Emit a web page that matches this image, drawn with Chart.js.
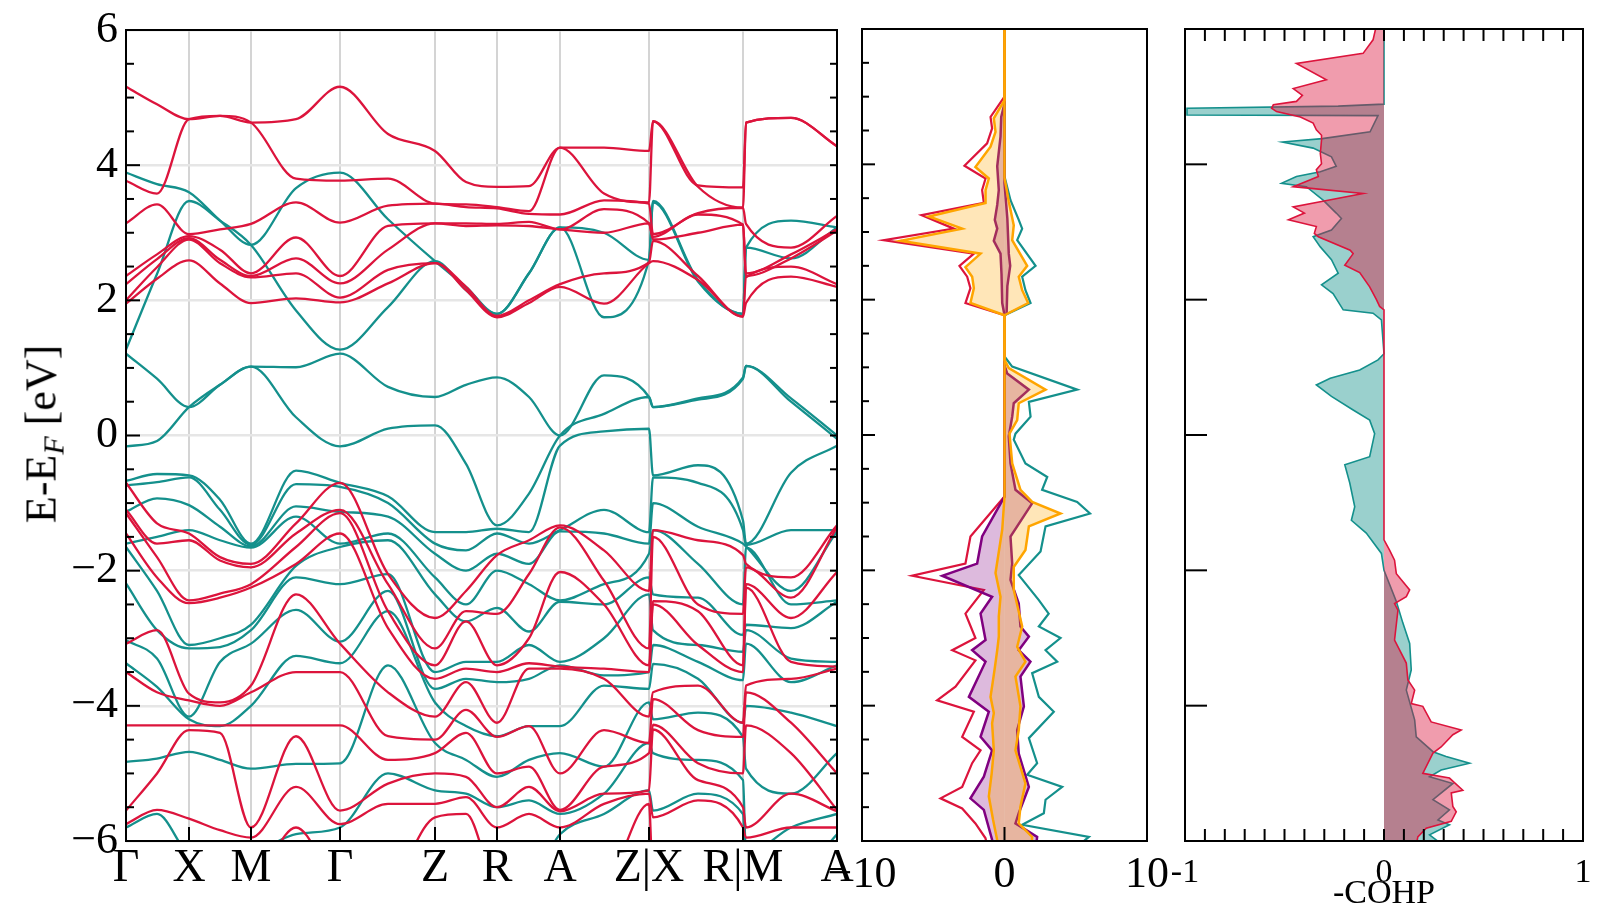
<!DOCTYPE html>
<html>
<head>
<meta charset="utf-8">
<script src="https://cdn.jsdelivr.net/npm/chart.js@4.4.1/dist/chart.umd.min.js"></script>
<style>
html, body { margin: 0; padding: 0; background: #fff; }
#wrap { position: relative; width: 1618px; height: 911px; overflow: hidden; }
#wrap canvas { position: absolute; left: 0; top: 0; }
#ytitle { position: absolute; left: 41px; top: 434px; transform: translate(-50%, -50%) rotate(-90deg);
  font-family: 'Liberation Serif', 'Times New Roman', serif; font-size: 44px; white-space: nowrap; color: #000; }
#ytitle sub { font-size: 30px; font-style: italic; vertical-align: -8px; line-height: 0; }
</style>
</head>
<body>
<div id="wrap">
  <canvas id="bands" width="1618" height="911"></canvas>
  <canvas id="dos" width="1618" height="911"></canvas>
  <canvas id="cohp" width="1618" height="911"></canvas>
  <div id="ytitle">E-E<sub>F</sub> [eV]</div>
</div>
<script>
// k-path: sample positions, high-symmetry ticks and their labels
const kPath = [0, 0.31, 0.63, 0.94, 1.25, 1.70, 2.14, 2.62, 3.09, 3.40, 3.71, 4.03, 4.34, 4.78, 5.23, 5.27, 5.72, 6.17, 6.20, 6.65, 7.11]
const kTicks = [0, 0.63, 1.25, 2.14, 3.09, 3.71, 4.34, 5.23, 6.17, 7.11]
const kLabels = ['Γ', 'X', 'M', 'Γ', 'Z', 'R', 'A', 'Z|X', 'R|M', 'A']

// band energies (eV) read at each k sample, one row per kPath entry
const tealCols = [
  [3.89, 1.27, 1.21, -0.16, -0.67, -0.74, -1.13, -1.6, -1.65, -2.19, -3.03, -3.37, -4.83, -5.8, -6.6],
  [3.72, 2.39, 0.84, -0.08, -0.57, -0.69, -0.93, -1.5, -2.3, -2.88, -3.3, -3.72, -4.78, -5.6, -6.6],
  [3.6, 3.47, 0.42, 0.42, -0.59, -0.62, -1.03, -1.4, -3.1, -3.15, -4.16, -4.2, -4.68, -6.2, -6.6],
  [3.18, 3.18, 0.75, 0.75, -0.95, -1.1, -1.35, -1.55, -3.0, -3.13, -3.35, -4.3, -4.8, -6.3, -6.6],
  [2.82, 2.82, 1.02, 1.02, -1.6, -1.62, -1.64, -1.66, -2.8, -2.88, -3.08, -4.0, -4.93, -6.2, -6.6],
  [3.66, 1.85, 1.01, 0.27, -0.52, -0.72, -1.05, -1.2, -1.93, -2.1, -2.58, -3.26, -4.86, -5.9, -6.6],
  [3.89, 1.27, 1.21, -0.16, -0.7, -0.76, -1.13, -1.6, -1.65, -2.2, -3.05, -3.37, -4.85, -5.8, -6.6],
  [3.2, 1.9, 0.72, 0.1, -0.9, -1.0, -1.2, -1.45, -1.55, -2.05, -2.3, -2.6, -3.4, -5.0, -6.6],
  [2.58, 2.58, 0.57, 0.15, -1.43, -1.6, -1.75, -2.1, -2.35, -3.5, -3.75, -3.95, -4.55, -5.25, -6.6],
  [2.2, 2.15, 0.75, -0.42, -1.43, -1.7, -2.0, -2.5, -2.75, -3.35, -3.6, -4.3, -4.8, -5.3, -6.6],
  [1.8, 1.8, 0.86, -1.33, -1.38, -1.45, -1.75, -2.0, -2.55, -3.35, -3.65, -4.45, -5.05, -5.5, -6.6],
  [2.4, 2.4, 0.57, -0.86, -1.43, -1.6, -1.9, -2.2, -2.9, -3.1, -3.6, -4.3, -4.8, -5.4, -6.6],
  [3.08, 3.08, 0.0, 0.0, -0.15, -1.4, -1.42, -2.44, -2.46, -3.35, -3.4, -4.3, -4.7, -5.6, -5.9],
  [3.0, 1.75, 0.89, 0.32, 0.06, -1.1, -1.45, -2.2, -2.5, -3.0, -3.55, -3.7, -4.9, -5.3, -5.6],
  [2.6, 2.6, 0.57, 0.57, 0.1, -1.43, -1.6, -1.75, -2.1, -2.35, -3.5, -3.75, -3.95, -4.55, -5.25],
  [3.47, 3.45, 0.42, 0.42, -0.59, -0.62, -1.0, -1.4, -2.35, -2.88, -3.1, -3.38, -4.2, -4.7, -5.55],
  [2.3, 2.28, 0.55, 0.53, -0.44, -0.7, -1.35, -1.9, -2.4, -3.1, -3.35, -3.6, -4.1, -4.8, -5.3],
  [1.8, 1.8, 0.86, 0.84, -1.26, -1.4, -1.6, -2.5, -2.95, -3.2, -3.62, -4.25, -4.46, -5.1, -5.6],
  [2.78, 2.78, 1.03, 1.03, -1.6, -1.62, -1.64, -1.66, -2.8, -2.88, -3.08, -4.0, -4.93, -6.2, -6.6],
  [3.18, 2.62, 0.55, 0.5, -0.55, -1.4, -2.3, -2.5, -2.85, -3.3, -3.65, -4.1, -5.3, -5.8, -6.6],
  [3.08, 3.08, 0.0, -0.05, -0.15, -1.4, -1.42, -2.44, -2.46, -3.35, -3.4, -4.3, -4.7, -5.6, -5.9]
]
const redCols = [
  [5.16, 3.77, 3.14, 2.36, 2.24, 2.0, 1.95, -0.7, -1.1, -1.15, -1.45, -3.08, -3.5, -4.29, -5.55, -5.75, -6.6],
  [4.9, 3.58, 3.42, 2.68, 2.61, 2.49, 2.32, -1.3, -1.6, -1.8, -2.1, -2.88, -3.8, -4.29, -5.0, -5.54, -6.6],
  [4.68, 4.68, 2.98, 2.95, 2.92, 2.9, 2.59, -1.45, -1.55, -2.44, -2.48, -3.82, -3.92, -4.29, -4.36, -5.67, -6.6],
  [4.73, 4.73, 3.05, 2.75, 2.6, 2.55, 2.25, -1.8, -1.85, -2.34, -2.4, -3.95, -4.0, -4.29, -4.4, -5.84, -6.6],
  [4.63, 4.63, 3.13, 2.4, 2.36, 2.34, 1.96, -1.9, -1.95, -2.2, -2.25, -3.7, -3.8, -4.29, -5.8, -5.95, -6.6],
  [4.68, 3.8, 3.45, 2.93, 2.62, 2.4, 2.03, -1.3, -1.45, -1.65, -1.9, -2.35, -3.5, -4.29, -4.45, -5.2, -5.8],
  [5.16, 3.77, 3.15, 2.36, 2.25, 2.04, 1.97, -0.7, -1.1, -1.15, -1.45, -3.08, -3.5, -4.29, -5.55, -5.75, -6.6],
  [4.46, 3.8, 3.4, 3.1, 2.75, 2.45, 2.25, -2.05, -2.2, -2.6, -2.85, -3.8, -4.45, -4.8, -5.15, -5.45, -6.6],
  [4.21, 3.43, 3.43, 3.14, 3.14, 2.55, 2.55, -2.7, -3.15, -3.4, -3.6, -4.16, -4.5, -4.7, -5.0, -5.45, -5.65],
  [3.75, 3.42, 3.38, 3.14, 3.1, 2.2, 2.15, -2.3, -2.6, -2.75, -3.45, -3.65, -4.06, -4.4, -5.05, -5.35, -5.6],
  [3.68, 3.38, 3.36, 3.13, 3.11, 1.77, 1.75, -1.77, -2.64, -3.4, -3.5, -4.25, -4.46, -5.0, -5.5, -5.8, -6.6],
  [3.69, 3.32, 3.28, 3.16, 3.1, 2.0, 1.96, -1.55, -2.05, -3.0, -3.37, -3.45, -4.3, -4.9, -5.2, -5.6, -6.6],
  [4.26, 4.26, 3.27, 3.05, 3.05, 2.24, 2.2, -1.33, -1.36, -2.02, -3.42, -3.45, -5.0, -5.54, -5.56, -5.8, -6.6],
  [4.26, 3.58, 3.48, 3.35, 3.0, 2.4, 1.95, -1.7, -2.15, -2.5, -3.45, -3.6, -4.36, -4.9, -5.3, -5.45, -6.6],
  [4.21, 3.45, 3.43, 3.14, 3.14, 2.56, 2.55, -2.3, -3.15, -3.4, -3.5, -4.16, -4.55, -4.7, -5.25, -5.3, -5.45],
  [4.65, 4.65, 2.98, 2.94, 2.9, 2.88, 2.58, -1.4, -1.5, -2.45, -2.5, -3.8, -3.9, -4.28, -4.35, -5.65, -6.6],
  [3.7, 3.68, 3.29, 3.27, 3.0, 2.36, 2.3, -1.55, -2.5, -2.6, -3.1, -3.7, -4.36, -4.85, -5.1, -5.4, -6.6],
  [3.67, 3.37, 3.37, 3.12, 3.12, 1.76, 1.76, -1.77, -2.64, -3.4, -3.5, -4.25, -4.46, -5.0, -5.5, -5.8, -6.6],
  [4.63, 4.63, 3.13, 2.4, 2.36, 2.34, 1.96, -1.9, -1.95, -2.2, -2.25, -3.7, -3.8, -4.29, -5.8, -5.95, -6.6],
  [4.70, 4.70, 2.78, 2.68, 2.62, 2.5, 2.35, -2.1, -2.4, -2.7, -3.35, -3.6, -4.25, -4.7, -5.3, -5.8, -6.6],
  [4.28, 4.28, 3.25, 3.05, 3.03, 2.24, 2.2, -1.33, -1.36, -2.02, -3.42, -3.45, -5.0, -5.54, -5.56, -5.8, -6.6]
]

// DOS: [energy, states/eV] pairs, spin up positive, spin down negative
const dosTotalDn = [[6,0],[5.0,0],[4.70,-0.98],[4.53,-0.87],[4.31,-1.22],[3.98,-2.81],[3.79,-1.33],[3.62,-1.57],[3.43,-1.45],[3.25,-5.82],[3.05,-3.56],[2.88,-8.47],[2.68,-2.15],[2.50,-3.16],[2.34,-2.62],[2.17,-2.39],[1.95,-2.74],[1.77,0],[-0.91,0],[-1.5,-2.39],[-1.9,-2.74],[-2.08,-6.48],[-2.29,-1.45],[-2.64,-2.74],[-3.0,-2.04],[-3.18,-3.67],[-3.33,-2.04],[-3.72,-3.44],[-3.92,-4.73],[-4.09,-2.15],[-4.46,-2.97],[-4.66,-1.68],[-4.85,-2.27],[-5.2,-2.97],[-5.37,-4.49],[-5.52,-2.97],[-5.74,-2.04],[-5.96,-1.33],[-6.1,-1.2]]
const dosTotalUp = [[6,0],[3.82,0],[3.47,0.42],[3.18,1.0],[3.05,1.24],[2.88,0.89],[2.50,2.18],[2.34,1.24],[2.14,1.47],[1.95,1.83],[1.77,0],[1.16,0],[1.01,0.54],[0.67,5.1],[0.49,1.71],[0.27,1.83],[0.02,0.77],[-0.07,0.65],[-0.42,1.47],[-0.62,3.0],[-0.81,2.64],[-0.99,5.1],[-1.16,6.0],[-1.35,2.88],[-1.72,2.53],[-2.07,1.0],[-2.44,2.41],[-2.64,3.1],[-2.83,2.41],[-3.0,3.93],[-3.18,2.88],[-3.35,3.7],[-3.52,1.94],[-3.87,2.41],[-4.09,3.46],[-4.48,1.71],[-4.85,2.29],[-5.02,1.59],[-5.2,4.05],[-5.39,2.88],[-5.59,2.76],[-5.76,1.24],[-5.94,5.92],[-6.1,5.0]]
const dosPurpleDn = [[6,0],[4.9,0],[4.7,-0.23],[4.41,-0.28],[3.97,-0.51],[3.62,-0.4],[3.40,-0.51],[3.18,-0.68],[3.05,-0.51],[2.87,-0.75],[2.68,-0.28],[2.38,-0.21],[1.95,-0.16],[1.77,0],[-0.91,0],[-1.5,-1.57],[-1.9,-1.92],[-2.08,-4.37],[-2.39,-0.87],[-2.64,-1.68],[-3.03,-1.33],[-3.18,-2.27],[-3.35,-1.33],[-3.87,-2.5],[-4.09,-1.1],[-4.46,-1.68],[-4.66,-0.87],[-5.05,-1.45],[-5.37,-2.39],[-5.54,-1.45],[-5.98,-0.87],[-6.1,-0.8]]
const dosPurpleUp = [[6,0],[3.72,0],[3.2,0.2],[2.68,0.3],[2.5,0.4],[2.2,0.2],[1.8,0.15],[1.77,0],[1.03,0],[0.91,0.19],[0.67,1.71],[0.47,0.65],[0.27,0.54],[-0.02,0.3],[-0.42,0.42],[-0.81,0.77],[-1.01,1.94],[-1.5,0.42],[-1.9,0.54],[-2.14,0.42],[-2.49,1.0],[-2.83,1.12],[-2.98,1.71],[-3.18,1.0],[-3.35,1.82],[-3.57,1.12],[-4.01,1.36],[-4.36,0.89],[-4.71,1.0],[-5.2,1.71],[-5.59,1.0],[-5.74,0.77],[-5.94,2.29],[-6.1,2.2]]
const dosOrangeDn = [[6,0],[4.95,0],[4.68,-0.75],[4.48,-0.63],[4.26,-0.98],[3.96,-2.04],[3.79,-1.1],[3.62,-1.33],[3.43,-1.33],[3.23,-5.31],[3.05,-2.97],[2.87,-7.3],[2.68,-1.68],[2.48,-2.74],[2.34,-2.27],[2.17,-2.15],[1.95,-2.39],[1.77,0],[-0.91,0],[-1.4,-0.16],[-2.04,-0.63],[-2.39,-0.28],[-2.68,-0.4],[-2.98,-0.4],[-3.18,-0.51],[-3.47,-0.7],[-3.87,-0.98],[-4.11,-0.75],[-4.26,-0.87],[-4.66,-0.75],[-5.0,-0.9],[-5.34,-1.1],[-5.69,-0.8],[-5.99,-0.51],[-6.1,-0.45]]
const dosOrangeUp = [[6,0],[3.8,0],[3.45,0.3],[3.1,0.65],[2.88,0.54],[2.50,1.59],[2.34,1.0],[2.14,1.24],[1.95,1.66],[1.77,0],[1.11,0],[0.99,0.3],[0.67,2.88],[0.47,1.0],[0.22,0.89],[0.02,0.35],[-0.42,0.54],[-0.81,1.12],[-0.99,1.94],[-1.16,3.93],[-1.35,1.71],[-1.7,1.47],[-1.95,0.65],[-2.29,0.65],[-2.83,1.24],[-3.13,0.89],[-3.35,1.47],[-3.57,0.77],[-4.01,1.12],[-4.36,1.0],[-4.66,0.77],[-5.15,1.47],[-5.49,1.12],[-5.74,1.0],[-5.94,1.94],[-6.1,1.9]]

// -COHP: [energy, value] pairs
const cohpTeal = [[6.05,0],[4.89,0],[4.86,-0.23],[4.83,-0.99],[4.73,-0.99],[4.72,-0.03],[4.48,-0.07],[4.38,-0.31],[4.33,-0.51],[4.24,-0.356],[4.11,-0.264],[3.97,-0.24],[3.89,-0.32],[3.82,-0.44],[3.72,-0.515],[3.67,-0.39],[3.47,-0.306],[3.28,-0.24],[3.2,-0.214],[3.03,-0.264],[2.93,-0.356],[2.78,-0.32],[2.59,-0.264],[2.39,-0.23],[2.22,-0.314],[2.09,-0.256],[1.85,-0.205],[1.8,-0.055],[1.7,-0.013],[1.2,0],[1.11,-0.03],[0.96,-0.122],[0.84,-0.27],[0.74,-0.34],[0.57,-0.264],[0.37,-0.155],[0.22,-0.072],[0.02,-0.047],[-0.32,-0.072],[-0.44,-0.197],[-0.71,-0.172],[-1.06,-0.147],[-1.26,-0.164],[-1.45,-0.089],[-1.75,-0.013],[-2.0,0],[-2.46,0.062],[-2.78,0.095],[-3.08,0.129],[-3.47,0.137],[-3.77,0.112],[-4.21,0.154],[-4.46,0.162],[-4.68,0.246],[-4.75,0.312],[-4.85,0.43],[-4.95,0.287],[-5.05,0.229],[-5.15,0.346],[-5.39,0.246],[-5.54,0.329],[-5.69,0.271],[-5.76,0.329],[-5.91,0.229],[-6.06,0.296]]
const cohpRed = [[6.05,-0.03],[6.03,-0.04],[5.84,-0.055],[5.64,-0.105],[5.49,-0.44],[5.25,-0.29],[5.12,-0.456],[5.02,-0.41],[4.93,-0.44],[4.88,-0.556],[4.83,-0.565],[4.78,-0.54],[4.70,-0.42],[4.61,-0.356],[4.51,-0.34],[4.43,-0.314],[4.36,-0.314],[4.16,-0.32],[4.01,-0.314],[3.92,-0.34],[3.82,-0.33],[3.67,-0.456],[3.57,-0.105],[3.45,-0.314],[3.37,-0.456],[3.28,-0.40],[3.18,-0.48],[3.08,-0.34],[2.98,-0.35],[2.93,-0.33],[2.73,-0.17],[2.68,-0.155],[2.51,-0.197],[2.40,-0.122],[2.19,-0.072],[2.0,-0.038],[1.90,-0.022],[1.85,0],[-1.55,0],[-1.7,0.028],[-1.85,0.053],[-2.05,0.062],[-2.29,0.129],[-2.39,0.112],[-2.49,0.053],[-2.59,0.07],[-3.03,0.053],[-3.37,0.112],[-3.62,0.12],[-3.77,0.154],[-3.97,0.137],[-4.01,0.195],[-4.24,0.237],[-4.36,0.388],[-4.43,0.346],[-4.61,0.287],[-4.70,0.246],[-5.0,0.195],[-5.07,0.329],[-5.25,0.396],[-5.29,0.338],[-5.49,0.346],[-5.57,0.363],[-5.71,0.338],[-5.81,0.212],[-5.94,0.17],[-6.06,0.162]]

const TEAL = '#14908c'
const RED = '#dc143c'
const PURPLE = '#800080'
const ORANGE = '#ffa500'
const SERIF = "'Liberation Serif', 'Times New Roman', serif"

Chart.defaults.font.family = SERIF
Chart.defaults.color = '#000'
Chart.defaults.animation = false

function range(a, b, step) {
  const out = []
  for (let v = a; v <= b + 1e-9; v += step) out.push(Math.round(v * 1000) / 1000)
  return out
}
const isMajor = v => Math.abs(v % 2) < 1e-6
const minusLabel = v => (v < 0 ? '\u2212' + Math.abs(v) : String(v))

// inward tick marks + frame, positioned through the chart's own scales
function frameTicks(marks) {
  return {
    id: 'frameTicks',
    afterDraw(chart) {
      const { ctx, chartArea: a } = chart
      ctx.save()
      ctx.strokeStyle = '#000'
      ctx.lineWidth = 2
      for (const m of marks) {
        const s = chart.scales[m.scale]
        for (const v of m.values) {
          const p = s.getPixelForValue(v)
          const len = m.len(v)
          ctx.beginPath()
          if (m.side === 'left') { ctx.moveTo(a.left, p); ctx.lineTo(a.left + len, p) }
          else if (m.side === 'right') { ctx.moveTo(a.right, p); ctx.lineTo(a.right - len, p) }
          else if (m.side === 'bottom') { ctx.moveTo(p, a.bottom); ctx.lineTo(p, a.bottom - len) }
          else { ctx.moveTo(p, a.top); ctx.lineTo(p, a.top + len) }
          ctx.stroke()
        }
      }
      ctx.strokeRect(a.left, a.top, a.right - a.left, a.bottom - a.top)
      ctx.restore()
    }
  }
}

function bandSets(cols, color) {
  const sorted = cols.map(c => [...c].sort((a, b) => b - a))
  const sets = []
  for (let i = 0; i < sorted[0].length; i++) {
    sets.push({
      data: sorted.map((c, j) => ({ x: kPath[j], y: c[i] })),
      borderColor: color,
      borderWidth: 2.3,
      pointRadius: 0,
      cubicInterpolationMode: 'monotone',
      clip: 0,
    })
  }
  return sets
}

// ---- band structure ----
new Chart(document.getElementById('bands'), {
  type: 'line',
  data: { datasets: [...bandSets(redCols, RED), ...bandSets(tealCols, TEAL)] },
  options: {
    responsive: false,
    layout: { autoPadding: false, padding: { left: 0, right: 1618 - 837, top: 29, bottom: 0 } },
    plugins: { legend: { display: false }, tooltip: { enabled: false } },
    scales: {
      x: {
        type: 'linear', min: 0, max: 7.11,
        afterBuildTicks: s => { s.ticks = kTicks.map(v => ({ value: v })) },
        afterFit: s => { s.height = 70 },
        ticks: { autoSkip: false, maxRotation: 0, padding: 5, font: { family: SERIF, size: 46, lineHeight: 1 },
          callback: (v, i) => kLabels[i] },
        grid: { color: '#d4d4d4', lineWidth: 2, drawTicks: false },
        border: { display: false },
      },
      y: {
        type: 'linear', min: -6, max: 6,
        afterFit: s => { s.width = 126 },
        ticks: { stepSize: 2, padding: 8, font: { family: SERIF, size: 44, lineHeight: 1 }, callback: minusLabel },
        grid: { color: '#e6e6e6', lineWidth: 2.5, drawTicks: false },
        border: { display: false },
      },
    },
  },
  plugins: [frameTicks([
    { scale: 'y', side: 'left', values: range(-6, 6, 0.5), len: v => (isMajor(v) ? 14 : 8) },
    { scale: 'y', side: 'right', values: range(-6, 6, 0.5), len: () => 7 },
    { scale: 'x', side: 'bottom', values: kTicks, len: () => 14 },
  ])],
})

// ---- DOS ----
const pts = arr => arr.map(p => ({ x: p[1], y: p[0] }))
new Chart(document.getElementById('dos'), {
  type: 'line',
  data: {
    datasets: [
      { data: pts(dosOrangeUp), borderColor: ORANGE, borderWidth: 2.5, fill: 'origin', backgroundColor: 'rgba(255,165,0,0.28)' },
      { data: pts(dosOrangeDn), borderColor: ORANGE, borderWidth: 2.5, fill: 'origin', backgroundColor: 'rgba(255,165,0,0.28)' },
      { data: pts(dosPurpleUp), borderColor: PURPLE, borderWidth: 2.5, fill: 'origin', backgroundColor: 'rgba(128,0,128,0.27)' },
      { data: pts(dosPurpleDn), borderColor: PURPLE, borderWidth: 2.5, fill: 'origin', backgroundColor: 'rgba(128,0,128,0.27)' },
      { data: pts(dosTotalUp), borderColor: TEAL, borderWidth: 2.2, fill: false },
      { data: pts(dosTotalDn), borderColor: RED, borderWidth: 2.2, fill: false },
    ],
  },
  options: {
    responsive: false,
    indexAxis: 'y',
    elements: { point: { radius: 0 }, line: { tension: 0 } },
    datasets: { line: { clip: 0 } },
    layout: { autoPadding: false, padding: { left: 862, right: 1618 - 1147, top: 29, bottom: 0 } },
    plugins: { legend: { display: false }, tooltip: { enabled: false } },
    scales: {
      x: {
        type: 'linear', min: -10, max: 10,
        afterFit: s => { s.height = 70 },
        ticks: { stepSize: 10, padding: 4, maxRotation: 0, font: { family: SERIF, size: 44, lineHeight: 1 }, callback: minusLabel },
        grid: { display: false },
        border: { display: false },
      },
      y: { type: 'linear', min: -6, max: 6, display: false },
    },
  },
  plugins: [frameTicks([
    { scale: 'y', side: 'left', values: range(-6, 6, 0.5), len: v => (isMajor(v) ? 13 : 7) },
    { scale: 'x', side: 'bottom', values: [0], len: () => 14 },
  ])],
})

// ---- COHP ----
new Chart(document.getElementById('cohp'), {
  type: 'line',
  data: {
    datasets: [
      { data: pts(cohpRed), borderColor: RED, borderWidth: 1.6, fill: 'origin', backgroundColor: 'rgba(220,20,60,0.42)' },
      { data: pts(cohpTeal), borderColor: TEAL, borderWidth: 1.6, fill: 'origin', backgroundColor: 'rgba(20,145,140,0.43)' },
    ],
  },
  options: {
    responsive: false,
    indexAxis: 'y',
    elements: { point: { radius: 0 }, line: { tension: 0 } },
    datasets: { line: { clip: 0 } },
    layout: { autoPadding: false, padding: { left: 1185, right: 1618 - 1583, top: 29, bottom: 0 } },
    plugins: { legend: { display: false }, tooltip: { enabled: false } },
    scales: {
      x: {
        type: 'linear', min: -1, max: 1,
        afterFit: s => { s.height = 70 },
        ticks: { stepSize: 1, padding: 7, maxRotation: 0, font: { family: SERIF, size: 34, lineHeight: 1 },
          callback: v => (v < 0 ? '-' + Math.abs(v) : String(v)) },
        title: { display: true, text: '-COHP', font: { family: SERIF, size: 34, lineHeight: 1 }, padding: 0 },
        grid: { display: false },
        border: { display: false },
      },
      y: { type: 'linear', min: -6, max: 6, display: false },
    },
  },
  plugins: [frameTicks([
    { scale: 'y', side: 'left', values: range(-6, 6, 2), len: () => 22 },
    { scale: 'x', side: 'bottom', values: range(-1, 1, 0.1), len: () => 12 },
    { scale: 'x', side: 'top', values: range(-1, 1, 0.1), len: () => 12 },
  ])],
})
</script>
</body>
</html>
